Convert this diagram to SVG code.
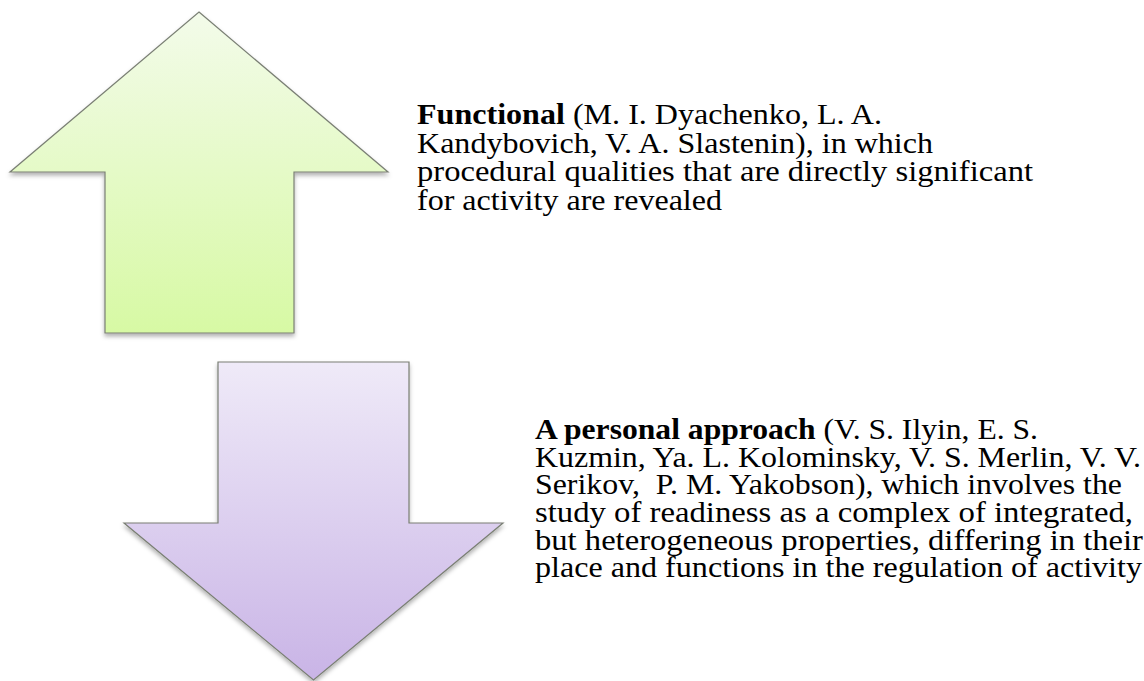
<svg xmlns="http://www.w3.org/2000/svg" width="1144" height="681" viewBox="0 0 1144 681">
<style>
.arrow{stroke:#7a7f74;stroke-width:1.2;stroke-linejoin:miter}
.t{font-family:"Liberation Serif","Times New Roman",serif;font-size:28.5px;fill:#000}
.b{font-weight:bold}
</style>
<defs>
<linearGradient id="gUp" x1="0" y1="0" x2="0" y2="1">
<stop offset="0" stop-color="#f3fbea"/>
<stop offset="1" stop-color="#d7f9a4"/>
</linearGradient>
<linearGradient id="gDown" x1="0" y1="0" x2="0" y2="1">
<stop offset="0" stop-color="#efeaf8"/>
<stop offset="1" stop-color="#c9b4e6"/>
</linearGradient>
<filter id="sh" x="-10%" y="-10%" width="120%" height="120%">
<feDropShadow dx="0" dy="3" stdDeviation="2" flood-color="#000" flood-opacity="0.3"/>
</filter>
</defs>
<rect width="1144" height="681" fill="#fff"/>
<g id="node-up">
<polygon class="arrow" filter="url(#sh)" fill="url(#gUp)" points="199,12 388,172 294,172 294,333 105,333 105,172 10,172"/>
</g>
<g id="node-down">
<polygon class="arrow" filter="url(#sh)" fill="url(#gDown)" points="218,362 409,362 409,523 503,523 313.5,680 124,523 218,523"/>
</g>
<g id="connectors"/>
<g id="text-functional" class="t">
<text x="417" y="124" textLength="465" lengthAdjust="spacingAndGlyphs"><tspan class="b">Functional</tspan> (M. I. Dyachenko, L. A.</text>
<text x="417" y="152.5" textLength="516" lengthAdjust="spacingAndGlyphs">Kandybovich, V. A. Slastenin), in which</text>
<text x="417" y="181" textLength="616" lengthAdjust="spacingAndGlyphs">procedural qualities that are directly significant</text>
<text x="417" y="209.5" textLength="305" lengthAdjust="spacingAndGlyphs">for activity are revealed</text>
</g>
<g id="text-personal" class="t">
<text x="535" y="439" textLength="503" lengthAdjust="spacingAndGlyphs"><tspan class="b">A personal approach</tspan> (V. S. Ilyin, E. S.</text>
<text x="535" y="466.7" textLength="606" lengthAdjust="spacingAndGlyphs">Kuzmin, Ya. L. Kolominsky, V. S. Merlin, V. V.</text>
<text x="535" y="494.4" textLength="587" lengthAdjust="spacingAndGlyphs" xml:space="preserve">Serikov,  P. M. Yakobson), which involves the</text>
<text x="535" y="522" textLength="598" lengthAdjust="spacingAndGlyphs">study of readiness as a complex of integrated,</text>
<text x="535" y="549.7" textLength="608" lengthAdjust="spacingAndGlyphs">but heterogeneous properties, differing in their</text>
<text x="535" y="577.4" textLength="607" lengthAdjust="spacingAndGlyphs">place and functions in the regulation of activity</text>
</g>
</svg>
